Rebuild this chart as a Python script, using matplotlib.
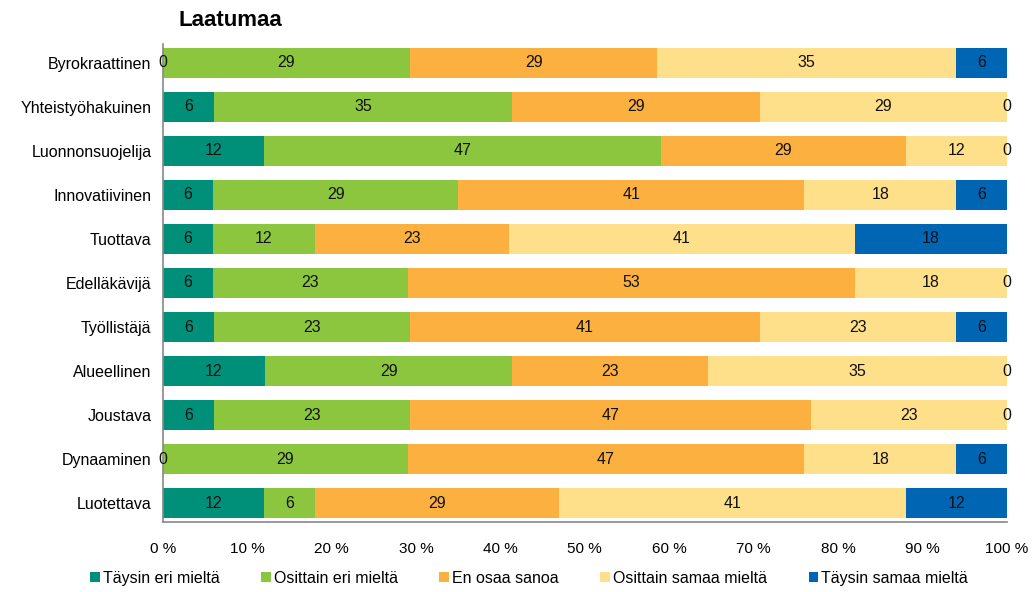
import numpy as np
import matplotlib.pyplot as plt

plt.rcParams['font.family'] = ['Liberation Sans', 'DejaVu Sans']

# kategoriat ylhäältä alas
categories = ['Byrokraattinen', 'Yhteistyöhakuinen', 'Luonnonsuojelija', 'Innovatiivinen',
              'Tuottava', 'Edelläkävijä', 'Työllistäjä', 'Alueellinen', 'Joustava',
              'Dynaaminen', 'Luotettava']

series_names = ['Täysin eri mieltä', 'Osittain eri mieltä', 'En osaa sanoa',
                'Osittain samaa mieltä', 'Täysin samaa mieltä']

taysin_eri = [0, 6, 12, 6, 6, 6, 6, 12, 6, 0, 12]
osittain_eri = [29, 35, 47, 29, 12, 23, 23, 29, 23, 29, 6]
en_osaa = [29, 29, 29, 41, 23, 53, 41, 23, 47, 47, 29]
osittain_samaa = [35, 29, 12, 18, 41, 18, 23, 35, 23, 18, 41]
taysin_samaa = [6, 0, 0, 6, 18, 0, 6, 0, 0, 6, 12]

colors = ['#00907a', '#8cc63f', '#fbb040', '#ffe08a', '#0066b3']

data = np.array([taysin_eri, osittain_eri, en_osaa, osittain_samaa, taysin_samaa], dtype=float)
# pyöristetyt luvut -> palkit venytetään 100 %:iin
shares = data / data.sum(axis=0) * 100

fig = plt.figure(figsize=(10.36, 5.92), dpi=100)
ax = fig.add_axes([0.157, 0.118, 0.815, 0.808])

y = np.arange(len(categories))[::-1]
left = np.zeros(len(categories))
for i in range(len(series_names)):
    bars = ax.barh(y, shares[i], left=left, height=0.68, color=colors[i],
                   label=series_names[i])
    ax.bar_label(bars, labels=[f'{v:.0f}' for v in data[i]], label_type='center',
                 fontsize=11.5, color='#111111')
    left += shares[i]

ax.set_xlim(0, 100)
ax.set_ylim(-0.43, len(categories) - 0.57)
ax.set_yticks(y)
ax.set_yticklabels(categories, fontsize=11.5)
ax.set_xticks(np.arange(0, 101, 10))
ax.set_xticklabels([f'{t} %' for t in range(0, 101, 10)], fontsize=11)
ax.tick_params(length=0, pad=8)
ax.tick_params(axis='x', pad=14)

for s in ['top', 'right']:
    ax.spines[s].set_visible(False)
for s in ['left', 'bottom']:
    ax.spines[s].set_color('#888888')
    ax.spines[s].set_linewidth(1.2)

fig.text(0.172, 0.965, 'Laatumaa', fontsize=16, fontweight='bold', va='center', ha='left')

ax.legend(loc='center', bbox_to_anchor=(0.434, -0.117), ncol=5, frameon=False,
          fontsize=11.5, handlelength=0.6, handleheight=0.6, handletextpad=0.2,
          columnspacing=2.6)

fig.savefig('out.png', dpi=100)
